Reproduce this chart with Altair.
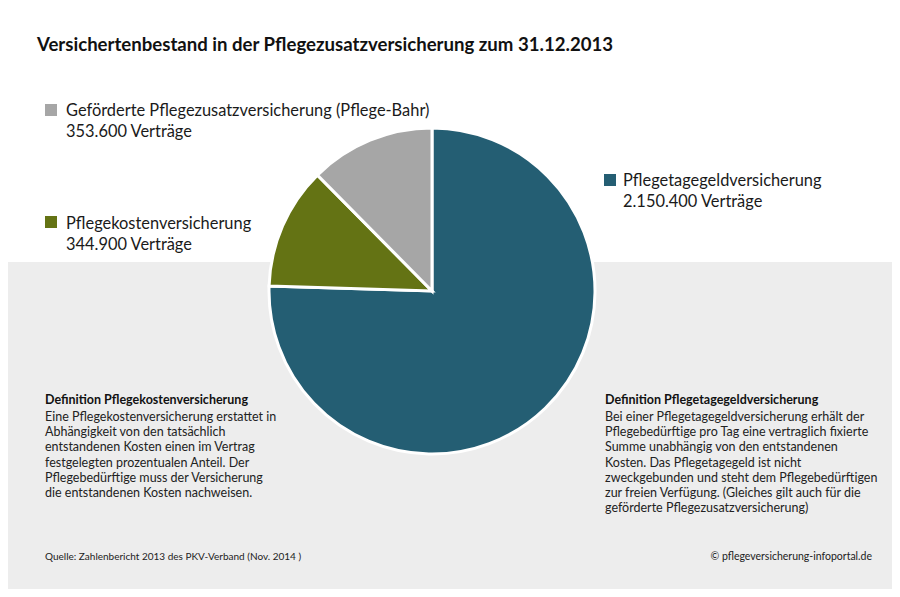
import altair as alt
import pandas as pd

# ---- data ----
categories = [
    "Pflegetagegeldversicherung",
    "Pflegekostenversicherung",
    "Geförderte Pflegezusatzversicherung (Pflege-Bahr)",
]
contracts = [2150400, 344900, 353600]
value_labels = ["2.150.400 Verträge", "344.900 Verträge", "353.600 Verträge"]
slice_order = [1, 2, 3]
colors = ["#245E73", "#647314", "#A6A6A6"]

title_text = "Versichertenbestand in der Pflegezusatzversicherung zum 31.12.2013"
def_left_title = "Definition Pflegekostenversicherung"
def_left_lines = [
    "Eine Pflegekostenversicherung erstattet in",
    "Abhängigkeit von den tatsächlich",
    "entstandenen Kosten einen im Vertrag",
    "festgelegten prozentualen Anteil. Der",
    "Pflegebedürftige muss der Versicherung",
    "die entstandenen Kosten nachweisen.",
]
def_right_title = "Definition Pflegetagegeldversicherung"
def_right_lines = [
    "Bei einer Pflegetagegeldversicherung erhält der",
    "Pflegebedürftige pro Tag eine vertraglich fixierte",
    "Summe unabhängig von den entstandenen",
    "Kosten. Das Pflegetagegeld ist nicht",
    "zweckgebunden und steht dem Pflegebedürftigen",
    "zur freien Verfügung. (Gleiches gilt auch für die",
    "geförderte Pflegezusatzversicherung)",
]
source_text = "Quelle: Zahlenbericht 2013 des PKV-Verband (Nov. 2014 )"
copyright_text = "© pflegeversicherung-infoportal.de"

df = pd.DataFrame({
    "category": categories,
    "contracts": contracts,
    "label": value_labels,
    "ord": slice_order,
})
one = pd.DataFrame({"a": [0]})

W, H = 884, 581
FONT = "Lato"
color_scale = alt.Scale(domain=categories, range=colors)

bg = alt.Chart(one).mark_rect(color="#EDEDED").encode(
    x=alt.value(0), x2=alt.value(W), y=alt.value(254), y2=alt.value(H)
)

pie = alt.Chart(df).mark_arc(radius=163, stroke="white", strokeWidth=3).encode(
    theta=alt.Theta("contracts:Q", stack=True),
    order=alt.Order("ord:Q"),
    color=alt.Color("category:N", scale=color_scale, legend=None),
    x=alt.value(424),
    y=alt.value(283),
)

layers = [bg, pie]

# legend entries: (category index, square x, square y, text x, first line y)
legend_pos = [(0, 596, 166, 615, 173), (1, 37, 208, 58, 216), (2, 37, 96, 58, 103)]
for idx, sx, sy, tx, ty in legend_pos:
    sub = alt.Chart(df).transform_filter(alt.datum.category == categories[idx])
    layers.append(sub.mark_rect().encode(
        x=alt.value(sx), x2=alt.value(sx + 12), y=alt.value(sy), y2=alt.value(sy + 12),
        color=alt.Color("category:N", scale=color_scale, legend=None)))
    layers.append(sub.mark_text(align="left", baseline="middle", font=FONT, fontSize=16.4,
                                color="#1a1a1a").encode(
        x=alt.value(tx), y=alt.value(ty), text="category:N"))
    layers.append(sub.mark_text(align="left", baseline="middle", font=FONT, fontSize=16.4,
                                color="#1a1a1a").encode(
        x=alt.value(tx), y=alt.value(ty + 21), text="label:N"))

title = alt.Chart(one).mark_text(text=title_text, align="left", baseline="middle",
                                 font=FONT, fontSize=18.6, fontWeight="bold", color="#111111").encode(
    x=alt.value(29), y=alt.value(37))

lt = alt.Chart(one).mark_text(text=def_left_title, align="left", baseline="middle",
                              font=FONT, fontSize=12.5, fontWeight="bold", color="#111111").encode(
    x=alt.value(37), y=alt.value(392))
lb = alt.Chart(one).mark_text(text=def_left_lines, align="left", baseline="top", lineHeight=15.2,
                              font=FONT, fontSize=12.5, color="#222222").encode(
    x=alt.value(37), y=alt.value(403))
rt = alt.Chart(one).mark_text(text=def_right_title, align="left", baseline="middle",
                              font=FONT, fontSize=12.5, fontWeight="bold", color="#111111").encode(
    x=alt.value(597), y=alt.value(392))
rb = alt.Chart(one).mark_text(text=def_right_lines, align="left", baseline="top", lineHeight=15.2,
                              font=FONT, fontSize=12.5, color="#222222").encode(
    x=alt.value(597), y=alt.value(403))

src = alt.Chart(one).mark_text(text=source_text, align="left", baseline="middle",
                               font=FONT, fontSize=10, color="#222222").encode(
    x=alt.value(37), y=alt.value(549))
cp = alt.Chart(one).mark_text(text=copyright_text, align="right", baseline="middle",
                              font=FONT, fontSize=10.5, color="#222222").encode(
    x=alt.value(864), y=alt.value(549))

layers += [title, lt, lb, rt, rb, src, cp]

chart = alt.layer(*layers).properties(
    width=W, height=H, padding=0,
    autosize=alt.AutoSizeParams(type="none"),
    background="white",
).configure_view(stroke=None)

chart.save("out.html", embed_options={"renderer": "svg", "actions": False})
